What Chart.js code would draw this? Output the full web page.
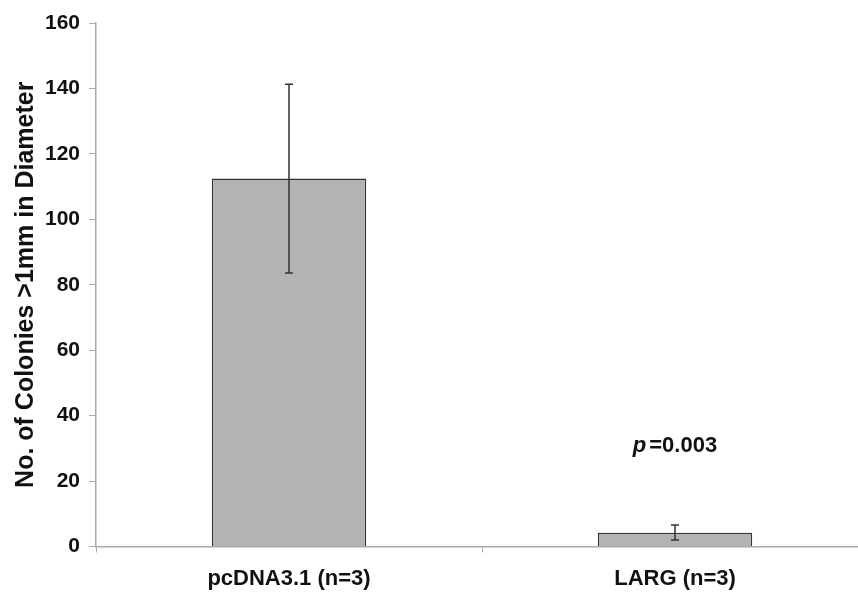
<!DOCTYPE html>
<html>
<head>
<meta charset="utf-8">
<script src="https://cdn.jsdelivr.net/npm/chart.js@4"></script>
<style>
  html, body { margin: 0; padding: 0; background: #fff; overflow: hidden; }
  #wrap { width: 870px; height: 596px; }
</style>
</head>
<body>
<div id="wrap"><canvas id="chart-colonies"></canvas></div>
<script>
const categories = ["pcDNA3.1 (n=3)", "LARG (n=3)"];
const colonies = [112.5, 4.2];
const errHigh = [141.3, 6.6];
const errLow = [83.6, 2.0];
const yTicks = [0, 20, 40, 60, 80, 100, 120, 140, 160];
const pNote = { index: 1, y: 30.7, label: "=0.003" };

const FONT = "'Liberation Sans', Arial, sans-serif";

// error bars drawn from errLow / errHigh through the scales
const errorBars = {
  id: "errorBars",
  afterDatasetsDraw(chart) {
    const ctx = chart.ctx;
    const x = chart.scales.x;
    const y = chart.scales.y;
    ctx.save();
    ctx.strokeStyle = "#333";
    ctx.lineWidth = 1.5;
    categories.forEach((c, i) => {
      const px = x.getPixelForValue(i);
      const top = y.getPixelForValue(errHigh[i]);
      const bot = y.getPixelForValue(errLow[i]);
      ctx.beginPath();
      ctx.moveTo(px, top);
      ctx.lineTo(px, bot);
      ctx.moveTo(px - 4, top);
      ctx.lineTo(px + 4, top);
      ctx.moveTo(px - 4, bot);
      ctx.lineTo(px + 4, bot);
      ctx.stroke();
    });
    // p value note
    const nx = x.getPixelForValue(pNote.index);
    const ny = y.getPixelForValue(pNote.y);
    ctx.fillStyle = "#111";
    ctx.textBaseline = "middle";
    ctx.font = "italic bold 22px " + FONT;
    const pw = ctx.measureText("p").width;
    ctx.font = "bold 22px " + FONT;
    const rw = ctx.measureText(pNote.label).width;
    const start = nx - (pw + 3 + rw) / 2;
    ctx.font = "italic bold 22px " + FONT;
    ctx.textAlign = "left";
    ctx.fillText("p", start, ny);
    ctx.font = "bold 22px " + FONT;
    ctx.fillText(pNote.label, start + pw + 3, ny);
    ctx.restore();
  },
};

const config = {
  type: "bar",
  data: {
    labels: categories,
    datasets: [
      {
        data: colonies,
        backgroundColor: "#b3b3b3",
        borderColor: "#333",
        borderWidth: 1.5,
        categoryPercentage: 1,
        barPercentage: 0.4,
      },
    ],
  },
  options: {
    responsive: true,
    maintainAspectRatio: false,
    animation: false,
    layout: { padding: { top: 23, right: 2, left: 0, bottom: 0 } },
    plugins: { legend: { display: false }, tooltip: { enabled: false } },
    scales: {
      x: {
        grid: {
          offset: true,
          drawOnChartArea: false,
          tickLength: 6,
          color: "#aaa",
        },
        border: { color: "#aaa", width: 1.5 },
        ticks: {
          color: "#111",
          padding: 13,
          font: { family: FONT, size: 22, weight: "bold" },
        },
        afterFit(scale) {
          scale.height = 49.5;
        },
      },
      y: {
        min: 0,
        max: 160,
        afterBuildTicks(scale) {
          scale.ticks = yTicks.map((v) => ({ value: v }));
        },
        grid: { drawOnChartArea: false, tickLength: 7, color: "#aaa" },
        border: { color: "#aaa", width: 1.5 },
        ticks: {
          color: "#111",
          padding: 9,
          font: { family: FONT, size: 21, weight: "bold" },
        },
        title: {
          display: true,
          text: "No. of Colonies >1mm in Diameter",
          color: "#111",
          padding: { top: 11, bottom: 6 },
          font: { family: FONT, size: 25, weight: "bold" },
        },
        afterFit(scale) {
          scale.width = 96;
        },
      },
    },
  },
  plugins: [errorBars],
};

new Chart(document.getElementById("chart-colonies"), config);
</script>
</body>
</html>
